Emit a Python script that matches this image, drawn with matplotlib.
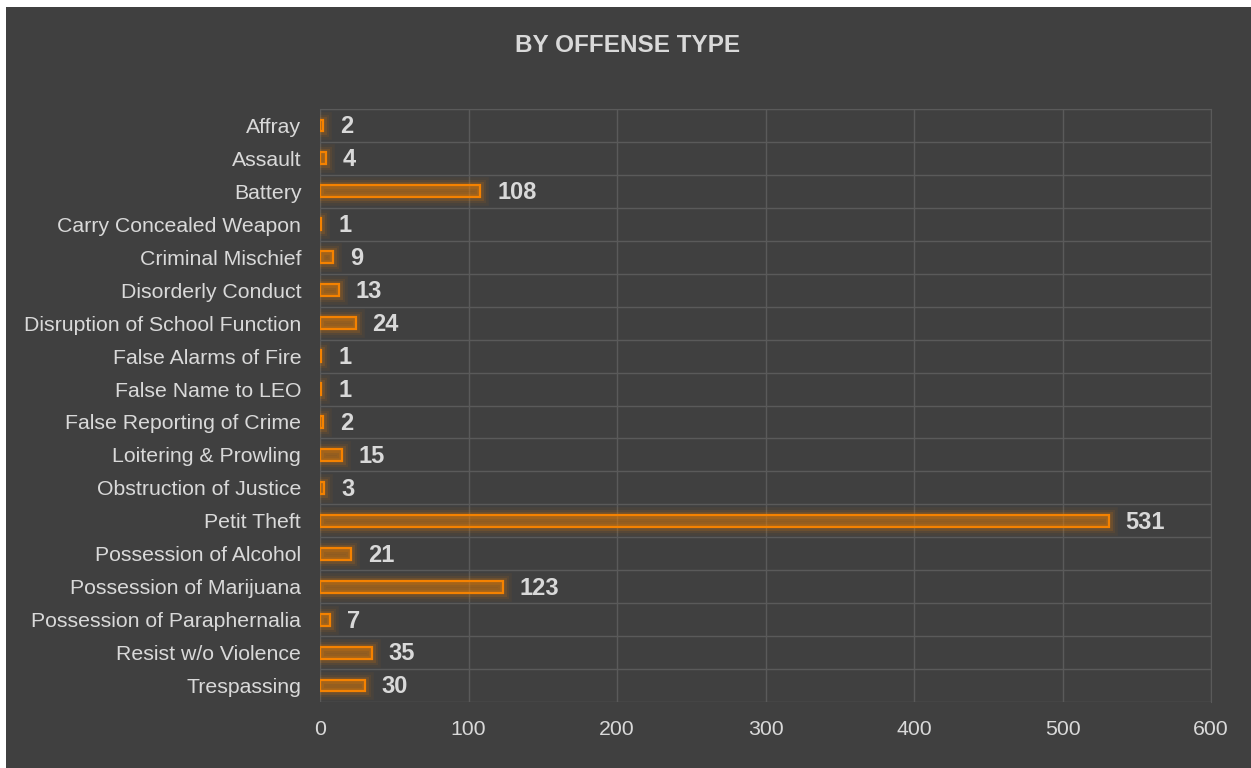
import matplotlib.pyplot as plt
import matplotlib.patheffects as pe
from matplotlib.patches import Rectangle

offenses = [
    "Affray", "Assault", "Battery", "Carry Concealed Weapon", "Criminal Mischief",
    "Disorderly Conduct", "Disruption of School Function", "False Alarms of Fire",
    "False Name to LEO", "False Reporting of Crime", "Loitering & Prowling",
    "Obstruction of Justice", "Petit Theft", "Possession of Alcohol",
    "Possession of Marijuana", "Possession of Paraphernalia", "Resist w/o Violence",
    "Trespassing",
]
counts = [2, 4, 108, 1, 9, 13, 24, 1, 1, 2, 15, 3, 531, 21, 123, 7, 35, 30]
x_ticks = [0, 100, 200, 300, 400, 500, 600]

BG = "#404040"
ORANGE = "#f58200"
TEXT = "#d9d9d9"
GRID = "#5a5a5a"

plt.rcParams["font.family"] = ["Liberation Sans", "DejaVu Sans"]

fig = plt.figure(figsize=(12.51, 7.68), dpi=100)
fig.patch.set_facecolor("white")
fig.add_artist(Rectangle((6 / 1251, 0), 1, 761 / 768, transform=fig.transFigure,
                         facecolor=BG, edgecolor="none", zorder=-10))

ax = fig.add_axes([320 / 1251, 1 - 702 / 768, (1211 - 320) / 1251, (702 - 109) / 768])
ax.set_facecolor(BG)

ypos = list(range(len(offenses)))
glow = [pe.Stroke(linewidth=12, foreground=ORANGE, alpha=0.05),
        pe.Stroke(linewidth=8, foreground=ORANGE, alpha=0.08),
        pe.Stroke(linewidth=5, foreground=ORANGE, alpha=0.14),
        pe.Normal()]
bars = ax.barh(ypos, counts, height=0.36, facecolor=(0.96, 0.51, 0.0, 0.22),
               edgecolor=ORANGE, linewidth=1.6, zorder=3)
for b in bars:
    b.set_path_effects(glow)

for y, v in zip(ypos, counts):
    ax.annotate(str(v), (v, y), xytext=(12, -1), textcoords="offset points",
                va="center", ha="left", fontsize=17, fontweight="bold", color=TEXT)

ax.set_xlim(0, 600)
ax.set_ylim(len(offenses) - 0.5, -0.5)
ax.set_xticks(x_ticks)
ax.set_yticks(ypos)
ax.set_yticklabels(offenses)
ax.set_yticks([i - 0.5 for i in range(len(offenses) + 1)], minor=True)
ax.tick_params(axis="both", which="both", length=0, colors=TEXT, labelsize=15.3)
ax.tick_params(axis="x", pad=13)
ax.tick_params(axis="y", pad=13.5)

ax.grid(axis="x", which="major", color=GRID, linewidth=1)
ax.grid(axis="y", which="minor", color=GRID, linewidth=1)
ax.set_axisbelow(True)
for s in ["left", "bottom"]:
    ax.spines[s].set_visible(False)
for s in ["top", "right"]:
    ax.spines[s].set_color(GRID)

fig.text(628 / 1251, 1 - 46 / 768, "BY OFFENSE TYPE", ha="center", va="center",
         fontsize=17.5, fontweight="bold", color=TEXT)

fig.savefig("out.png", dpi=100, facecolor=fig.get_facecolor())
